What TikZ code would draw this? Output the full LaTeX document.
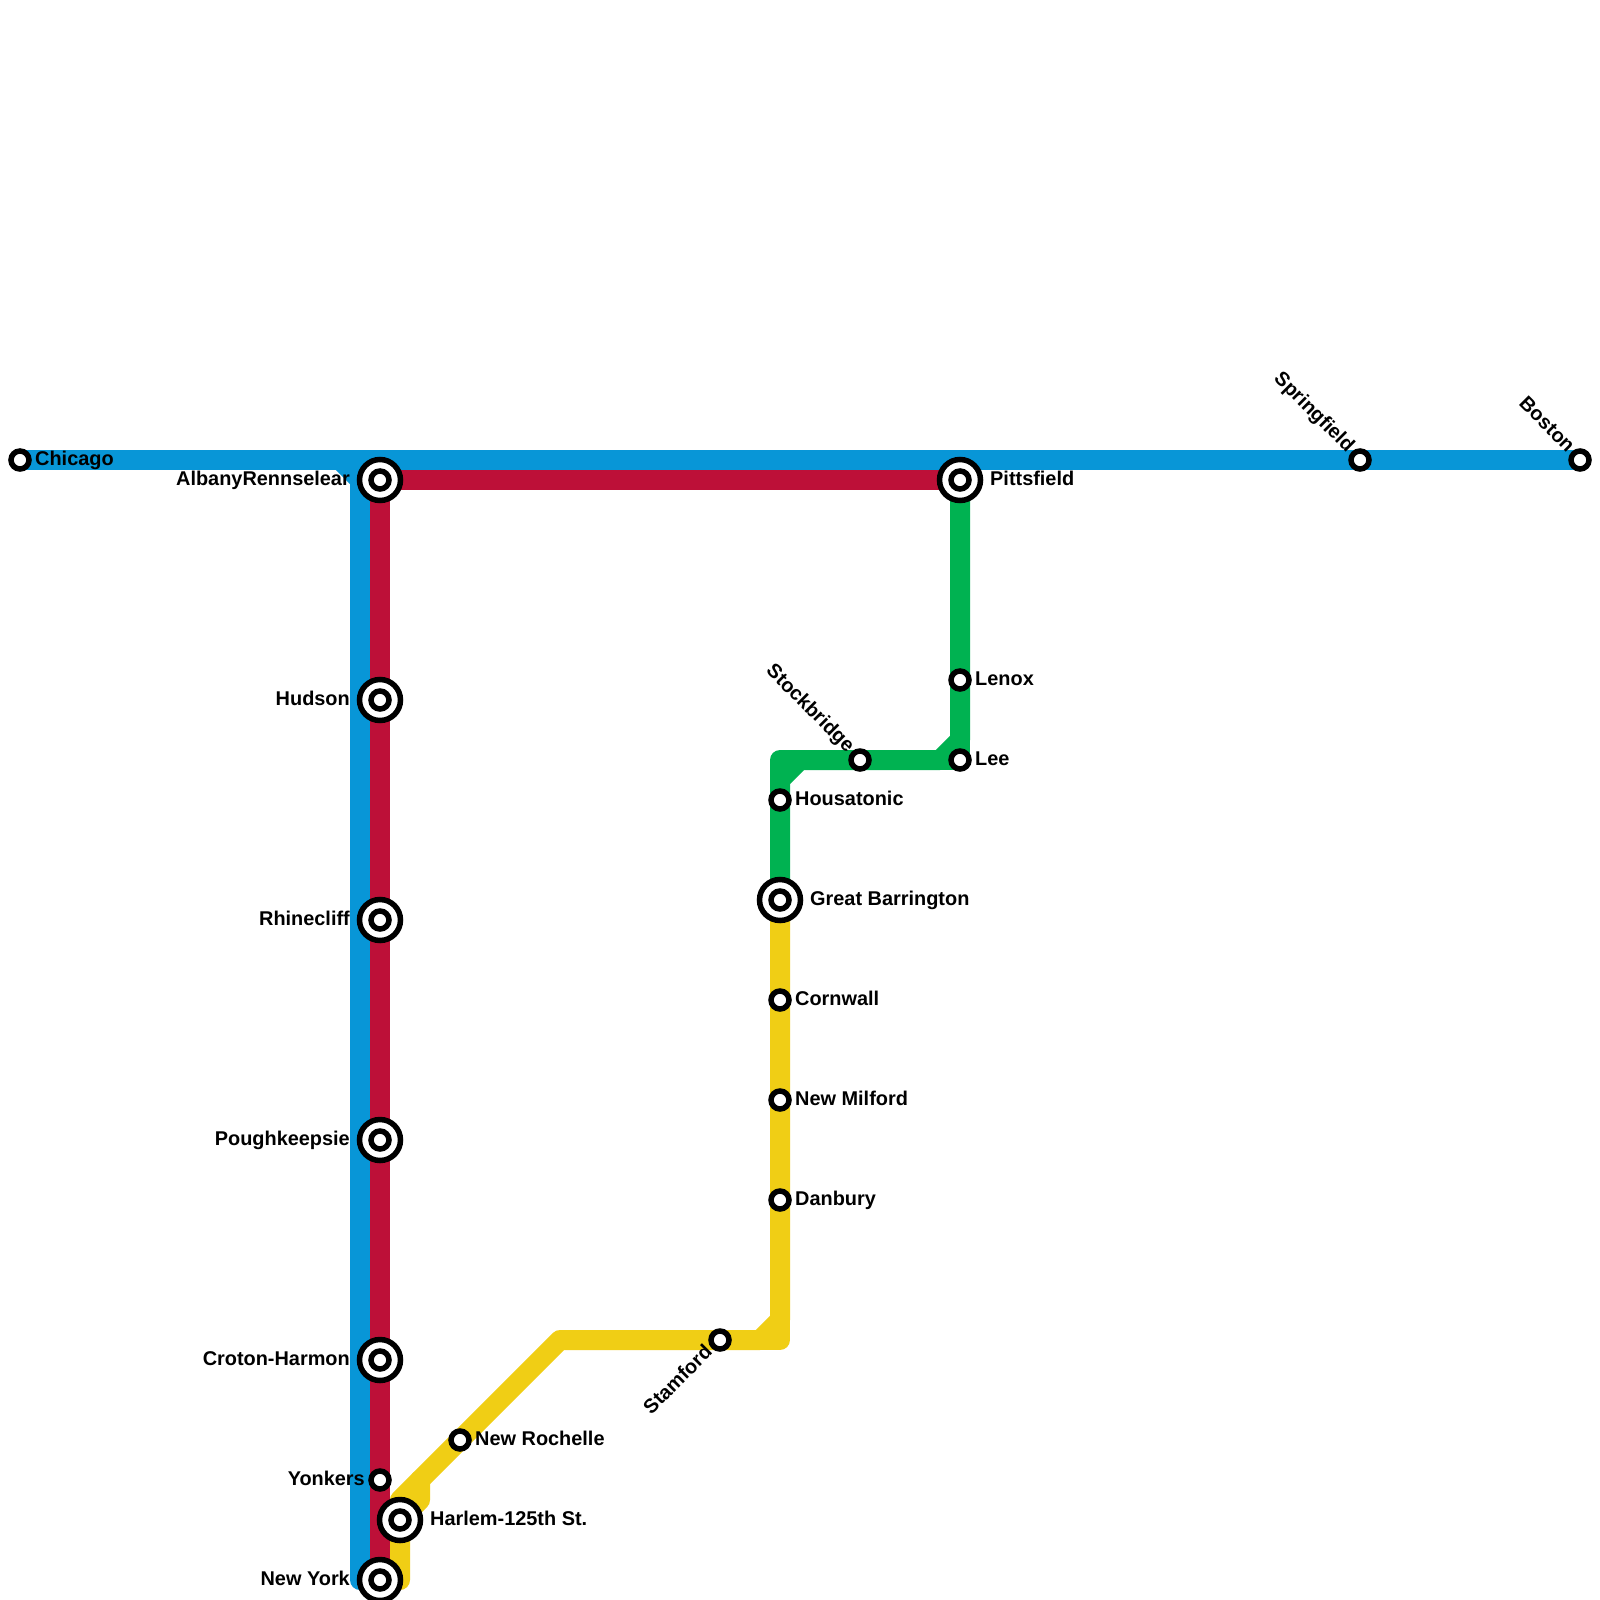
\documentclass[tikz,border=0pt]{standalone}
\usepackage{fontspec}
\setmainfont{Liberation Sans}
\usetikzlibrary{backgrounds}
\definecolor{lineblue}{HTML}{0896D7}
\definecolor{linered}{HTML}{BD1038}
\definecolor{linegreen}{HTML}{00B251}
\definecolor{lineyellow}{HTML}{F0CE15}
\tikzset{
  metro/.style={line width=20pt,line cap=round,line join=round},
  stn/.style={circle,draw=black,fill=white,line width=5.5pt,minimum size=18pt,inner sep=0pt},
  bigstn/.style={circle,draw=black,fill=white,line width=5.5pt,minimum size=41pt,inner sep=0pt},
  lbl/.style={inner sep=0pt,font=\fontsize{19.9}{24}\selectfont\bfseries,text=black},
  rt/.style={lbl,anchor=base west,xshift=15pt,yshift=-5.5pt},
  lf/.style={lbl,anchor=base east,xshift=-15pt,yshift=-5.5pt},
  bigrt/.style={lbl,anchor=base west,xshift=30pt,yshift=-5.5pt},
  biglf/.style={lbl,anchor=base east,xshift=-30pt,yshift=-5.5pt},
  nwlbl/.style={lbl,anchor=mid east,rotate=-45,xshift=-14pt,yshift=-2pt},
  swlbl/.style={lbl,anchor=mid east,rotate=45,xshift=-14pt,yshift=-2pt},
}
\begin{document}
\begin{tikzpicture}[x=1pt,y=-1pt]
\useasboundingbox (0,0) rectangle (1600,1600);
% bend points
\coordinate (bA) at (340,460);
\coordinate (bB) at (360,480);
\coordinate (bC) at (360,1580);
\coordinate (yA) at (400,1580);
\coordinate (yB) at (400,1500);
\coordinate (yC) at (560,1340);
\coordinate (yD) at (760,1340);
\coordinate (yE) at (780,1320);
\coordinate (yF) at (780,1340);
\coordinate (yG) at (420,1480);
\coordinate (yH) at (420,1500);
\coordinate (yI) at (400,1520);
\coordinate (gA) at (960,740);
\coordinate (gB) at (940,760);
\coordinate (gC) at (960,760);
\coordinate (gD) at (800,760);
\coordinate (gE) at (780,780);
\coordinate (gF) at (780,760);
% stations
\node[stn] (chicago) at (20,460) {};
\node[stn] (springfield) at (1360,460) {};
\node[stn] (boston) at (1580,460) {};
\node[bigstn] (albanyo) at (380,480) {};
\node[stn] (albany) at (380,480) {};
\node[bigstn] (hudsono) at (380,700) {};
\node[stn] (hudson) at (380,700) {};
\node[bigstn] (rhineo) at (380,920) {};
\node[stn] (rhine) at (380,920) {};
\node[bigstn] (pougho) at (380,1140) {};
\node[stn] (pough) at (380,1140) {};
\node[bigstn] (crotono) at (380,1360) {};
\node[stn] (croton) at (380,1360) {};
\node[stn] (yonkers) at (380,1480) {};
\node[bigstn] (harlemo) at (400,1520) {};
\node[stn] (harlem) at (400,1520) {};
\node[bigstn] (nyo) at (380,1580) {};
\node[stn] (ny) at (380,1580) {};
\node[stn] (rochelle) at (460,1440) {};
\node[stn] (stamford) at (720,1340) {};
\node[stn] (danbury) at (780,1200) {};
\node[stn] (milford) at (780,1100) {};
\node[stn] (cornwall) at (780,1000) {};
\node[bigstn] (greato) at (780,900) {};
\node[stn] (great) at (780,900) {};
\node[stn] (housatonic) at (780,800) {};
\node[stn] (stockbridge) at (860,760) {};
\node[stn] (lee) at (960,760) {};
\node[stn] (lenox) at (960,680) {};
\node[bigstn] (pittso) at (960,480) {};
\node[stn] (pitts) at (960,480) {};
% lines
\begin{scope}[on background layer]
\fill[white] (0,0) rectangle (1600,1600);
\draw[metro,lineblue] (chicago.center) -- (boston.center);
\draw[metro,lineblue] (bA) -- (bB) -- (bC);
\draw[metro,lineyellow] (yA) -- (yB) -- (yC) -- (yD) -- (yE) -- (great.center);
\draw[metro,lineyellow] (yE) -- (yF) -- (yD);
\draw[metro,lineyellow] (yG) -- (yH) -- (yI);
\draw[metro,linered] (ny.center) -- (albany.center) -- (pitts.center);
\draw[metro,linegreen] (pitts.center) -- (gA) -- (gB) -- (gD) -- (gE) -- (great.center);
\draw[metro,linegreen] (gA) -- (gC) -- (gB);
\draw[metro,linegreen] (gE) -- (gF) -- (gD);
\end{scope}
% labels
\node[rt] (tchicago) at (chicago.center) {Chicago};
\node[nwlbl] (tspring) at (springfield.center) {Springfield};
\node[nwlbl] (tboston) at (boston.center) {Boston};
\node[biglf] (talbany) at (albany.center) {AlbanyRennselear};
\node[biglf] (thudson) at (hudson.center) {Hudson};
\node[biglf] (trhine) at (rhine.center) {Rhinecliff};
\node[biglf] (tpough) at (pough.center) {Poughkeepsie};
\node[biglf] (tcroton) at (croton.center) {Croton-Harmon};
\node[lf] (tyonkers) at (yonkers.center) {Yonkers};
\node[bigrt] (tharlem) at (harlem.center) {Harlem-125th St.};
\node[biglf] (tny) at (ny.center) {New York};
\node[rt] (trochelle) at (rochelle.center) {New Rochelle};
\node[swlbl] (tstamford) at (stamford.center) {Stamford};
\node[rt] (tdanbury) at (danbury.center) {Danbury};
\node[rt] (tmilford) at (milford.center) {New Milford};
\node[rt] (tcornwall) at (cornwall.center) {Cornwall};
\node[bigrt] (tgreat) at (great.center) {Great Barrington};
\node[rt] (thousatonic) at (housatonic.center) {Housatonic};
\node[nwlbl] (tstock) at (stockbridge.center) {Stockbridge};
\node[rt] (tlee) at (lee.center) {Lee};
\node[rt] (tlenox) at (lenox.center) {Lenox};
\node[bigrt] (tpitts) at (pitts.center) {Pittsfield};
\end{tikzpicture}
\end{document}
